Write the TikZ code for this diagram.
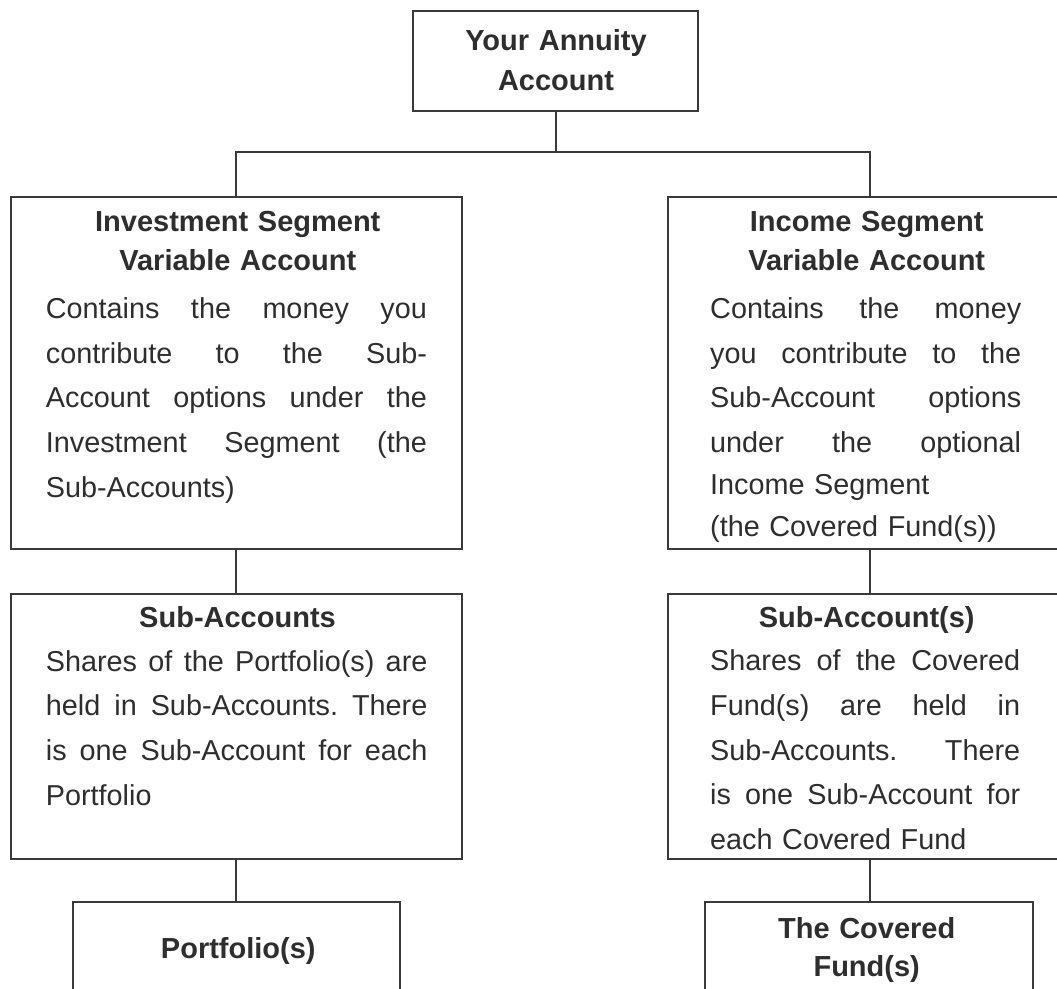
\documentclass[tikz,border=0pt]{standalone}
\usepackage{fontspec}
\setmainfont{Liberation Sans}
\definecolor{linec}{HTML}{3A3A3A}
\definecolor{txtc}{HTML}{2E2E2E}
\newcommand\jline[2]{\leavevmode\hbox to #1{\spaceskip=0.3em plus 1fil\relax\xspaceskip=\spaceskip #2}}
\begin{document}
\begin{tikzpicture}[x=1pt,y=-1pt]
\tikzset{
  box/.style={draw=linec, line width=1.9pt, inner sep=0pt, outer sep=0pt, rectangle},
  conn/.style={draw=linec, line width=1.7pt},
  ttl/.style={font=\fontsize{29}{39}\selectfont\bfseries, text=txtc, align=center, inner sep=0pt, anchor=base, text width=440pt},
  bdy/.style={font=\fontsize{28.8}{44.8}\selectfont, text=txtc, inner sep=0pt, anchor=base west, align=left}
}
\useasboundingbox (0,0) rectangle (1057,988);
\clip (0,0) rectangle (1057,988);
\fill[white] (0,0) rectangle (1057,988);

% boxes
\node[box, minimum width=285pt, minimum height=100.3pt] (top) at (555.8,60.85) {};
\node[box, minimum width=451pt, minimum height=352.6pt] (inv) at (236.2,373) {};
\node[box, minimum width=403.4pt, minimum height=352.6pt] (inc) at (870,373) {};
\node[box, minimum width=451pt, minimum height=264.8pt] (subl) at (236.2,726.7) {};
\node[box, minimum width=403.4pt, minimum height=264.8pt] (subr) at (870,726.7) {};
\node[box, minimum width=327.3pt, minimum height=140pt] (port) at (236.3,971.7) {};
\node[box, minimum width=327.7pt, minimum height=140pt] (cov) at (868.9,971.7) {};

% connectors
\coordinate (jn) at (555.8,152.3);
\draw[conn] (top.south) -- (jn);
\draw[conn] (inv.north) |- (jn) -| (inc.north);
\draw[conn] (inv.south) -- (subl.north);
\draw[conn] (inc.south) -- (subr.north);
\draw[conn] (subl.south) -- (subl.south |- port.north);
\draw[conn] (subr.south) -- (subr.south |- cov.north);

% texts
\node[ttl, font=\fontsize{29}{40.7}\selectfont\bfseries] (ttop) at (556,50) {Your Annuity\\Account};
\node[ttl, font=\fontsize{29}{38.3}\selectfont\bfseries] (tinv) at (237.8,231.7) {Investment Segment\\Variable Account};
\node[ttl, font=\fontsize{29}{38.3}\selectfont\bfseries] (tinc) at (866.7,231.7) {Income Segment\\Variable Account};
\node[bdy, text width=381pt] (binv) at (45.7,318.3) {%
\jline{381pt}{Contains the money you}\\
\jline{381pt}{contribute to the Sub-}\\
\jline{381pt}{Account options under the}\\
\jline{381pt}{Investment Segment (the}\\
Sub-Accounts)};
\node[bdy, text width=311pt] (binc) at (710,318.3) {%
\jline{311pt}{Contains the money}\\
\jline{311pt}{you contribute to the}\\
\jline{311pt}{Sub-Account options}\\
\jline{311pt}{under the optional}\\[-2.8pt]
Income Segment\\[-2.8pt]
(the Covered Fund(s))};

\node[ttl] (tsubl) at (237.5,627.3) {Sub-Accounts};
\node[ttl] (tsubr) at (866.7,627.3) {Sub-Account(s)};
\node[bdy, text width=381.5pt] (bsubl) at (45.7,671) {%
\jline{381.5pt}{Shares of the Portfolio(s) are}\\
\jline{381.5pt}{held in Sub-Accounts. There}\\
\jline{381.5pt}{is one Sub-Account for each}\\
Portfolio};
\node[bdy, text width=310pt] (bsubr) at (710,670.5) {%
\jline{310pt}{Shares of the Covered}\\
\jline{310pt}{Fund(s) are held in}\\
\jline{310pt}{Sub-Accounts. There}\\
\jline{310pt}{is one Sub-Account for}\\
each Covered Fund};

\node[ttl] (tport) at (238.3,958) {Portfolio(s)};
\node[ttl, font=\fontsize{29}{38.7}\selectfont\bfseries] (tcov) at (866.7,938) {The Covered\\Fund(s)};
\end{tikzpicture}
\end{document}
